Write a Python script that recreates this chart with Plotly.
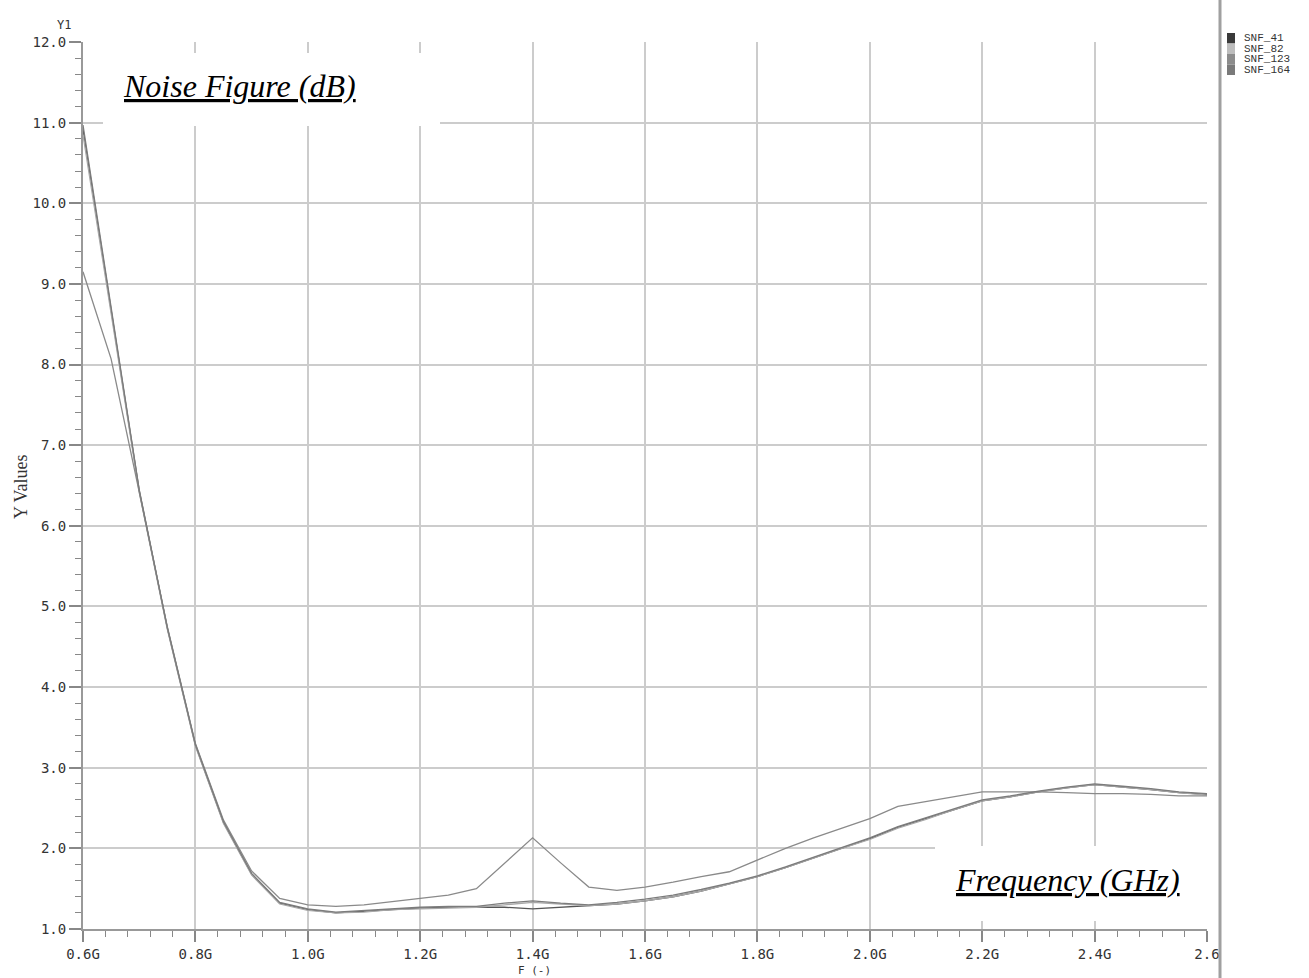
import plotly.graph_objects as go

# ---------------- data ----------------
freq = [0.60, 0.65, 0.70, 0.75, 0.80, 0.85, 0.90, 0.95, 1.00, 1.05,
        1.10, 1.15, 1.20, 1.25, 1.30, 1.35, 1.40, 1.45, 1.50, 1.55,
        1.60, 1.65, 1.70, 1.75, 1.80, 1.85, 1.90, 1.95, 2.00, 2.05,
        2.10, 2.15, 2.20, 2.25, 2.30, 2.35, 2.40, 2.45, 2.50, 2.55, 2.60]

snf_41 = [10.92, 8.70, 6.44, 4.73, 3.28, 2.32, 1.68, 1.32, 1.24, 1.20,
          1.22, 1.24, 1.26, 1.27, 1.27, 1.27, 1.25, 1.27, 1.29, 1.31,
          1.35, 1.40, 1.47, 1.56, 1.65, 1.76, 1.88, 2.00, 2.12, 2.26,
          2.37, 2.48, 2.59, 2.64, 2.70, 2.75, 2.79, 2.76, 2.73, 2.69, 2.67]

snf_82 = [10.85, 8.65, 6.42, 4.72, 3.27, 2.31, 1.67, 1.31, 1.23, 1.20,
          1.21, 1.24, 1.25, 1.26, 1.27, 1.30, 1.33, 1.31, 1.29, 1.31,
          1.35, 1.40, 1.47, 1.56, 1.65, 1.76, 1.88, 2.00, 2.11, 2.25,
          2.36, 2.48, 2.59, 2.64, 2.70, 2.75, 2.79, 2.76, 2.73, 2.69, 2.66]

snf_123 = [9.15, 8.07, 6.42, 4.75, 3.30, 2.35, 1.72, 1.38, 1.30, 1.28,
           1.30, 1.34, 1.38, 1.42, 1.50, 1.82, 2.13, 1.82, 1.52, 1.48,
           1.52, 1.58, 1.65, 1.71, 1.86, 2.00, 2.13, 2.25, 2.37, 2.52,
           2.58, 2.64, 2.70, 2.70, 2.70, 2.69, 2.68, 2.68, 2.67, 2.65, 2.65]

snf_164 = [10.97, 8.72, 6.45, 4.74, 3.29, 2.33, 1.69, 1.33, 1.25, 1.21,
           1.23, 1.25, 1.27, 1.28, 1.28, 1.32, 1.35, 1.32, 1.30, 1.33,
           1.37, 1.42, 1.49, 1.57, 1.66, 1.77, 1.89, 2.01, 2.13, 2.27,
           2.38, 2.49, 2.60, 2.65, 2.71, 2.76, 2.80, 2.77, 2.74, 2.70, 2.68]

series_names = ["SNF_41", "SNF_82", "SNF_123", "SNF_164"]
series_values = [snf_41, snf_82, snf_123, snf_164]
line_colors = ["#555555", "#a8a8a8", "#8a8a8a", "#7c7c7c"]
legend_colors = ["#3a3a3a", "#bdbdbd", "#8c8c8c", "#7a7a7a"]

x_tickvals = [0.6, 0.8, 1.0, 1.2, 1.4, 1.6, 1.8, 2.0, 2.2, 2.4, 2.6]
x_ticktext = ["0.6G", "0.8G", "1.0G", "1.2G", "1.4G", "1.6G", "1.8G",
              "2.0G", "2.2G", "2.4G", "2.6"]
y_tickvals = [1, 2, 3, 4, 5, 6, 7, 8, 9, 10, 11, 12]
y_ticktext = ["1.0", "2.0", "3.0", "4.0", "5.0", "6.0", "7.0", "8.0",
              "9.0", "10.0", "11.0", "12.0"]

# ---------------- layout geometry ----------------
W, H = 1309, 978
L, R, T, B = 83, 1207, 42, 929


def px(xp):
    return (xp - L) / (R - L)


def py(yp):
    return (B - yp) / (B - T)


fig = go.Figure()
for name, vals, col in zip(series_names, series_values, line_colors):
    fig.add_trace(go.Scatter(x=freq, y=vals, mode="lines", name=name,
                             line=dict(color=col, width=1.3),
                             showlegend=False))

mono = "DejaVu Sans Mono"
shapes = []
annotations = []

# white label boxes (cover grid; they do not overlap any curve)
shapes.append(dict(type="rect", xref="paper", yref="paper",
                   x0=px(103), x1=px(440), y0=py(126), y1=py(53),
                   fillcolor="white", line=dict(width=0), layer="above"))
shapes.append(dict(type="rect", xref="paper", yref="paper",
                   x0=px(935), x1=px(1213), y0=py(921), y1=py(846),
                   fillcolor="white", line=dict(width=0), layer="above"))

# right separator bar
shapes.append(dict(type="line", xref="paper", yref="paper",
                   x0=px(1220), x1=px(1220), y0=py(978), y1=py(0),
                   line=dict(color="#a0a0a0", width=3)))

# legend swatches
for i, (name, col) in enumerate(zip(series_names, legend_colors)):
    top = 33 + i * 10.5
    shapes.append(dict(type="rect", xref="paper", yref="paper",
                       x0=px(1227), x1=px(1235), y0=py(top + 10.5), y1=py(top),
                       fillcolor=col, line=dict(width=0)))
    annotations.append(dict(text=name, xref="paper", yref="paper",
                            x=px(1242), y=py(top + 5), xanchor="left",
                            yanchor="middle", showarrow=False,
                            font=dict(family="Liberation Mono", size=11,
                                      color="#333333")))

annotations += [
    dict(text="<i><u>Noise Figure (dB)</u></i>", xref="paper", yref="paper",
         x=px(239), y=py(86), xanchor="center", yanchor="middle",
         showarrow=False,
         font=dict(family="Liberation Serif", size=32, color="#000000")),
    dict(text="<i><u>Frequency (GHz)</u></i>", xref="paper", yref="paper",
         x=px(1067), y=py(880), xanchor="center", yanchor="middle",
         showarrow=False,
         font=dict(family="Liberation Serif", size=32, color="#000000")),
    dict(text="Y1", xref="paper", yref="paper", x=px(64), y=py(25),
         xanchor="center", yanchor="middle", showarrow=False,
         font=dict(family=mono, size=12, color="#333333")),
    dict(text="Y Values", xref="paper", yref="paper", x=px(21), y=py(487),
         xanchor="center", yanchor="middle", showarrow=False, textangle=-90,
         font=dict(family="Liberation Serif", size=18, color="#333333")),
    dict(text="F (-)", xref="paper", yref="paper", x=px(534), y=py(970),
         xanchor="center", yanchor="middle", showarrow=False,
         font=dict(family=mono, size=11, color="#333333")),
]

fig.update_layout(
    width=W, height=H,
    margin=dict(l=L, r=W - R, t=T, b=H - B, pad=0),
    paper_bgcolor="white", plot_bgcolor="white",
    shapes=shapes, annotations=annotations,
    showlegend=False,
    xaxis=dict(range=[0.6, 2.6], tickmode="array", tickvals=x_tickvals,
               ticktext=x_ticktext, showgrid=True, gridcolor="#cccccc",
               gridwidth=1.5, showline=True, linecolor="#999999",
               linewidth=2, ticks="outside", ticklen=11, tickwidth=1.5,
               tickcolor="#888888", zeroline=False,
               tickfont=dict(family=mono, size=14, color="#333333"),
               minor=dict(ticks="outside", ticklen=6, tickwidth=1.2,
                          tickcolor="#888888", dtick=0.04, tick0=0.6,
                          showgrid=False)),
    yaxis=dict(range=[1, 12], tickmode="array", tickvals=y_tickvals,
               ticktext=y_ticktext, showgrid=True, gridcolor="#cccccc",
               gridwidth=1.5, showline=True, linecolor="#999999",
               linewidth=2, ticks="outside", ticklen=12, tickwidth=1.5,
               tickcolor="#888888", zeroline=False,
               tickfont=dict(family=mono, size=14, color="#333333"),
               minor=dict(ticks="outside", ticklen=6, tickwidth=1.2,
                          tickcolor="#888888", dtick=0.2, tick0=1,
                          showgrid=False)),
)

fig.write_html("out.html", config={"displayModeBar": False},
               post_script="document.body.style.margin='0';"
                           "document.body.style.overflow='hidden';")
